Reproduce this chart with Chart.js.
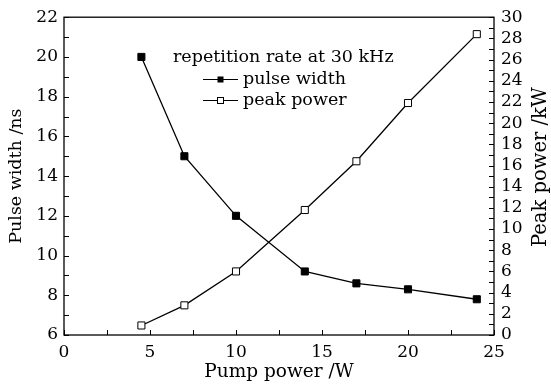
<!DOCTYPE html>
<html>
<head>
<meta charset="utf-8">
<script src="https://cdn.jsdelivr.net/npm/chart.js@4.4.1/dist/chart.umd.min.js"></script>
<style>
  html, body { margin: 0; padding: 0; background: #fff; }
  #wrap { width: 551px; height: 387px; }
</style>
</head>
<body>
<div id="wrap"><canvas id="chart" width="551" height="387"></canvas></div>
<script>
/* ── 数据 ── */
const pumpPower = [4.5, 7, 10, 14, 17, 20, 24];          // W
const pulseWidth = [20, 15, 12, 9.2, 8.6, 8.3, 7.8];     // ns
const peakPower = [0.9, 2.8, 6.0, 11.8, 16.4, 21.9, 28.4]; // kW

const legendTitle = 'repetition rate at 30 kHz';
const seriesNames = ['pulse width', 'peak power'];
const rightTitle = 'Peak power /kW';

const FAMILY = '"DejaVu Serif", "Liberation Serif", serif';
const FONT = { family: FAMILY, size: 17 };
const LEGEND_FONT = { family: FAMILY, size: 17.5 };
const INK = '#000';

// 框线 + 向内刻度 + 右轴标题（自下而上）
const frameTicks = {
    id: 'frameTicks',
    afterDraw(chart) {
        const { ctx, chartArea: a, scales } = chart;
        ctx.save();
        ctx.strokeStyle = INK;
        ctx.lineWidth = 1.3;
        ctx.strokeRect(a.left, a.top, a.right - a.left, a.bottom - a.top);

        const drawTicks = (scale, step, horizontal, fromEdge, dir) => {
            for (let v = scale.min; v <= scale.max + 1e-9; v += step) {
                const p = Math.round(scale.getPixelForValue(v)) + 0.5;
                ctx.beginPath();
                if (horizontal) {
                    ctx.moveTo(p, fromEdge);
                    ctx.lineTo(p, fromEdge + dir * 5);
                } else {
                    ctx.moveTo(fromEdge, p);
                    ctx.lineTo(fromEdge + dir * 5, p);
                }
                ctx.stroke();
            }
        };
        ctx.lineWidth = 1;
        drawTicks(scales.x, 2.5, true, a.bottom, -1);
        drawTicks(scales.y, 1, false, a.left, 1);
        drawTicks(scales.y2, 1, false, a.right, -1);

        // 右轴标题
        ctx.translate(541, 167);
        ctx.rotate(-Math.PI / 2);
        ctx.font = `19.5px ${FAMILY}`;
        ctx.fillStyle = INK;
        ctx.textAlign = 'center';
        ctx.textBaseline = 'middle';
        ctx.fillText(rightTitle, 0, 0);
        ctx.restore();
    },
};

// 图内图例
const innerLegend = {
    id: 'innerLegend',
    afterDraw(chart) {
        const { ctx } = chart;
        ctx.save();
        ctx.font = `${LEGEND_FONT.size}px ${LEGEND_FONT.family}`;
        ctx.fillStyle = INK;
        ctx.textBaseline = 'middle';
        ctx.fillText(legendTitle, 173, 57);
        seriesNames.forEach((name, i) => {
            const y = 79 + i * 21;
            ctx.strokeStyle = INK;
            ctx.lineWidth = 1.2;
            ctx.beginPath();
            ctx.moveTo(203, y + 0.5);
            ctx.lineTo(238, y + 0.5);
            ctx.stroke();
            const s = 6;
            if (i === 0) {
                ctx.fillStyle = INK;
                ctx.fillRect(220.5 - s / 2, y + 0.5 - s / 2, s, s);
            } else {
                ctx.fillStyle = '#fff';
                ctx.fillRect(220.5 - s / 2, y + 0.5 - s / 2, s, s);
                ctx.lineWidth = 1;
                ctx.strokeRect(220.5 - s / 2, y + 0.5 - s / 2, s, s);
            }
            ctx.fillStyle = INK;
            ctx.fillText(name, 243, y);
        });
        ctx.restore();
    },
};

const toXY = (xs, ys) => xs.map((x, i) => ({ x, y: ys[i] }));

new Chart(document.getElementById('chart'), {
    type: 'line',
    data: {
        datasets: [
            {
                label: seriesNames[0],
                data: toXY(pumpPower, pulseWidth),
                yAxisID: 'y',
                borderColor: INK,
                borderWidth: 1.3,
                pointStyle: 'rect',
                pointRadius: 5,
                pointBackgroundColor: INK,
                pointBorderColor: INK,
                pointBorderWidth: 1,
                tension: 0,
            },
            {
                label: seriesNames[1],
                data: toXY(pumpPower, peakPower),
                yAxisID: 'y2',
                borderColor: INK,
                borderWidth: 1.3,
                pointStyle: 'rect',
                pointRadius: 5,
                pointBackgroundColor: '#fff',
                pointBorderColor: INK,
                pointBorderWidth: 1,
                tension: 0,
            },
        ],
    },
    options: {
        responsive: false,
        animation: false,
        layout: { padding: { top: 16, left: 0, right: 0, bottom: 0 } },
        plugins: { legend: { display: false }, tooltip: { enabled: false } },
        scales: {
            x: {
                type: 'linear',
                min: 0, max: 25,
                grid: { display: false, drawTicks: false },
                border: { display: false },
                ticks: { stepSize: 5, font: FONT, color: INK, padding: 7, maxRotation: 0 },
                title: { display: true, text: 'Pump power /W', font: { family: FAMILY, size: 18.5 }, color: INK, padding: { top: 0, bottom: 4 } },
                afterFit: s => { s.height = 52; },
            },
            y: {
                position: 'left',
                min: 6, max: 22,
                grid: { display: false, drawTicks: false },
                border: { display: false },
                ticks: { stepSize: 2, font: FONT, color: INK, padding: 6 },
                title: { display: true, text: 'Pulse width /ns', font: { family: FAMILY, size: 17.5 }, color: INK, padding: { top: 6, bottom: 0 } },
                afterFit: s => { s.width = 64; },
            },
            y2: {
                position: 'right',
                min: 0, max: 30,
                grid: { display: false, drawTicks: false },
                border: { display: false },
                ticks: { stepSize: 2, autoSkip: false, font: FONT, color: INK, padding: 7 },
                afterFit: s => { s.width = 57; },
            },
        },
    },
    plugins: [frameTicks, innerLegend],
});
</script>
</body>
</html>
